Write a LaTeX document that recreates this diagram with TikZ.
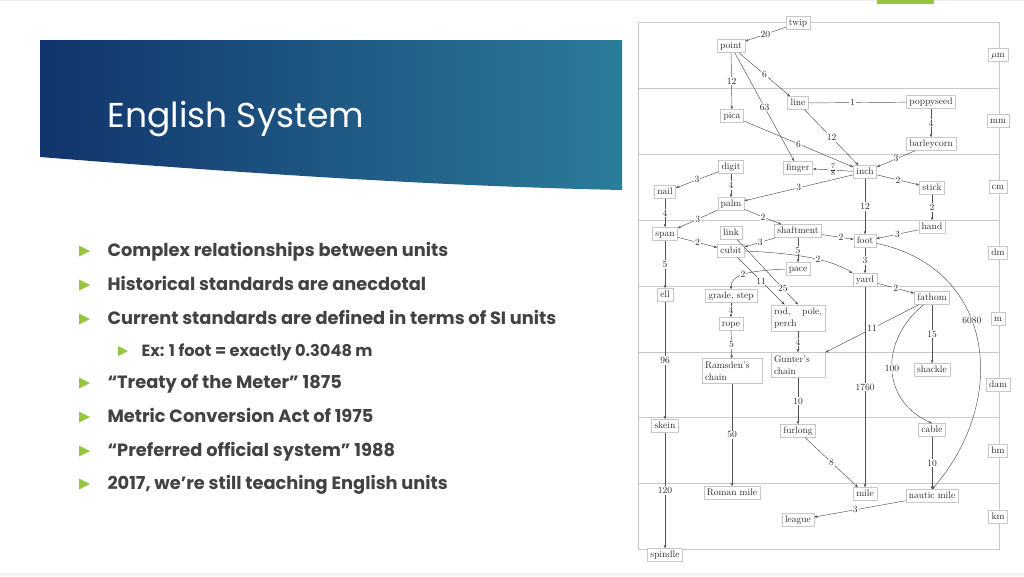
\documentclass[tikz,border=0pt]{standalone}
\usepackage{fontspec}
\newfontfamily\slidefont{Poppins}
\usetikzlibrary{arrows.meta}

\definecolor{bulletgreen}{RGB}{150,198,62}
\definecolor{bodygray}{RGB}{66,66,66}
\definecolor{bandnavy}{RGB}{17,52,108}
\definecolor{bandmid}{RGB}{30,92,136}
\definecolor{bandteal}{RGB}{44,124,154}
\definecolor{framegray}{RGB}{200,200,200}
\definecolor{edgegray}{RGB}{80,80,80}

\tikzset{
  unit/.style={draw=framegray, fill=white, inner xsep=3pt, inner ysep=2pt,
    text height=7pt, text depth=2pt, text=black!85,
    font=\fontsize{9.5}{11}\selectfont},
  unitlong/.style={draw=framegray, fill=white, inner sep=3pt, align=left,
    text=black!85, font=\fontsize{9.5}{12}\selectfont},
  conv/.style={draw=edgegray, line width=.45pt},
  bullet/.style={anchor=base west, text=bodygray,
    font=\slidefont\bfseries\fontsize{17.8}{20}\selectfont},
  subbullet/.style={anchor=base west, text=bodygray,
    font=\slidefont\bfseries\fontsize{16.2}{18}\selectfont}
}

\begin{document}
\begin{tikzpicture}[x=1pt,y=-1pt]
\useasboundingbox (0,0) rectangle (1024,576);
\fill[white] (0,0) rectangle (1024,576);
\draw[gray!15] (0,0.5) -- (1024,0.5);
\fill[gray!10] (0,573) rectangle (1024,576);
\fill[bulletgreen] (877,0) rectangle (934,4);

% title band
\shade[left color=bandnavy, middle color=bandmid, right color=bandteal]
  (40,40) -- (622,40) -- (622,190) .. controls (430,186) and (230,172) .. (40,157) -- cycle;
\node[anchor=base west, text=white, font=\slidefont\fontsize{34.5}{40}\selectfont] (title) at (104,127) {English System};

% bullets
\foreach \y in {256,290,324,388,422,456,489}
  \fill[bulletgreen] (79,\y-10.5) -- (90,\y-5) -- (79,\y+0.5) -- cycle;
\fill[bulletgreen] (118,346) -- (128,351) -- (118,356) -- cycle;
\node[bullet] (b1) at (104,256) {Complex relationships between units};
\node[bullet] (b2) at (104,290) {Historical standards are anecdotal};
\node[bullet] (b3) at (104,324) {Current standards are defined in terms of SI units};
\node[subbullet] (b4) at (138,356) {Ex: 1 foot = exactly 0.3048 m};
\node[bullet] (b5) at (104,388) {“Treaty of the Meter” 1875};
\node[bullet] (b6) at (104,422) {Metric Conversion Act of 1975};
\node[bullet] (b7) at (104,456) {“Preferred official system” 1988};
\node[bullet] (b8) at (104,489) {2017, we’re still teaching English units};

% frame of the bands
\draw[framegray] (638,22) rectangle (999,549);
\foreach \y in {88,154,220,286,352,417,483}
  \draw[framegray] (638,\y) -- (999,\y);

\begin{scope}[every node/.style={unit}]
    \node (twip) at (798,23) {twip};
    \node (point) at (731,46) {point};
    \node (line) at (798,103) {line};
    \node (poppyseed) at (931,102) {poppyseed};
    \node (pica) at (732,116) {pica};
    \node (barleycorn) at (931,144) {barleycorn};
    \node (digit) at (731,167) {digit};
    \node (finger) at (798,168) {finger};
    \node (inch) at (865,172) {inch};
    \node (nail) at (665,192) {nail};
    \node (stick) at (932,188) {stick};
    \node (palm) at (731,204) {palm};
    \node (hand) at (932,227) {hand};
    \node (span) at (665,234) {span};
    \node (link) at (731,233) {link};
    \node (shaftment) at (798,231) {shaftment};
    \node (foot) at (865,241) {foot};
    \node (cubit) at (731,251) {cubit};
    \node (pace) at (798,269) {pace};
    \node (yard) at (865,280) {yard};
    \node (ell) at (665,295) {ell};
    \node (grade) at (731,296) {grade, step};
    \node (fathom) at (932,298) {fathom};
    \node (rope) at (731,324) {rope};
    \node (shackle) at (932,370) {shackle};
    \node (skein) at (665,426) {skein};
    \node (furlong) at (798,431) {furlong};
    \node (cable) at (932,430) {cable};
    \node (roman) at (732,493) {Roman mile};
    \node (mile) at (865,494) {mile};
    \node (nautic) at (932,496) {nautic mile};
    \node (league) at (798,520) {league};
    \node (spindle) at (665,555) {spindle};

    \node (um) at (998,55) {$\mu$m};
    \node (mm) at (998,121) {mm};
    \node (cm) at (998,187) {cm};
    \node (dm) at (998,253) {dm};
    \node (m) at (998,319) {m};
    \node (dam) at (998,385) {dam};
    \node (hm) at (998,451) {hm};
    \node (km) at (998,517) {km};
\end{scope}
\node[unitlong, text width=48pt] (rod) at (798,318) {rod,\hfill pole,\\perch};
\node[unitlong, text width=54pt] (ramsden) at (732,371) {Ramsden's\\chain};
\node[unitlong, text width=48pt] (gunter) at (798,365) {Gunter's\\chain};

\begin{scope}[>={Stealth[length=3.5pt,width=2.6pt]},
              every node/.style={fill=white, inner sep=1pt, text=black!85,
                                 font=\fontsize{9.5}{11}\selectfont},
              every edge/.style={conv}]

    \path [->] (twip) edge node {20} (point);
    \path [->] (point) edge node {12} (pica);
    \path [->] (point) edge node {6} (line);
    \path [->] (point) edge node {63} (finger);
    \path [-] (line) edge node[pos=.45] {1} (poppyseed);
    \path [->] (poppyseed) edge node {4} (barleycorn);
    \path [->] (pica) edge node {6} (inch);
    \path [->] (line) edge node {12} (inch);
    \path [->] (barleycorn) edge node {3} (inch);
    \path [->] (inch) edge node {$\frac{7}{8}$} (finger);
    \path [->] (inch) edge node {2} (stick);
    \path [->] (inch) edge node {3} (palm);
    \path [->] (inch) edge node {12} (foot);
    \path [->] (digit) edge node {3} (nail);
    \path [->] (digit) edge node {4} (palm);
    \path [->] (stick) edge node {2} (hand);
    \path [->] (nail) edge node {4} (span);
    \path [->] (palm) edge node {3} (span);
    \path [->] (palm) edge node {2} (shaftment);
    \path [->] (hand) edge node {3} (foot);
    \path [->] (shaftment) edge node[pos=.6] {2} (foot);
    \path [->] (shaftment) edge node {3} (cubit);
    \path [->] (shaftment) edge node {5} (pace);
    \path [->] (span) edge node {2} (cubit);
    \path [->] (span) edge node {5} (ell);
    \path [->] (foot) edge node {3} (yard);
    \path [->] (cubit) edge node {11} (rod);
    \path [->] (link) edge node[pos=.75] {25} (rod.north);
    \path [->] (yard) edge node {2} (fathom);
    \path [->] (yard) edge node {1760} (mile);
    \path [->] (ell) edge node {96} (skein);
    \path [->] (grade) edge node {4} (rope);
    \path [->] (rope) edge node {5} (ramsden);
    \path [->] (rod) edge node {4} (gunter);
    \path [->] (fathom) edge node {11} (gunter.north east);
    \path [->] (fathom) edge node {15} (shackle);
    \path [->] (gunter) edge node {10} (furlong);
    \path [->] (ramsden) edge node {50} (roman);
    \path [->] (skein) edge node {120} (spindle);
    \path [->] (furlong) edge node {8} (mile);
    \path [->] (cable) edge node {10} (nautic);
    \path [->] (nautic) edge node[pos=.55] {3} (league);

    \draw [->, conv] (cubit.east) .. controls (790,253) and (830,258) .. (yard.north west) node[pos=.6] {2};
    \draw [->, conv] (pace.west) .. controls (745,271) and (731,275) .. (grade.north) node[pos=.5] {2};
    \draw [->, conv] (foot) .. controls (995,268) and (1010,400) .. (nautic.north) node[pos=.42] {6080};
    \draw [->, conv] (fathom) .. controls (880,340) and (880,400) .. (cable.north) node[pos=.5] {100};
\end{scope}
\end{tikzpicture}
\end{document}
